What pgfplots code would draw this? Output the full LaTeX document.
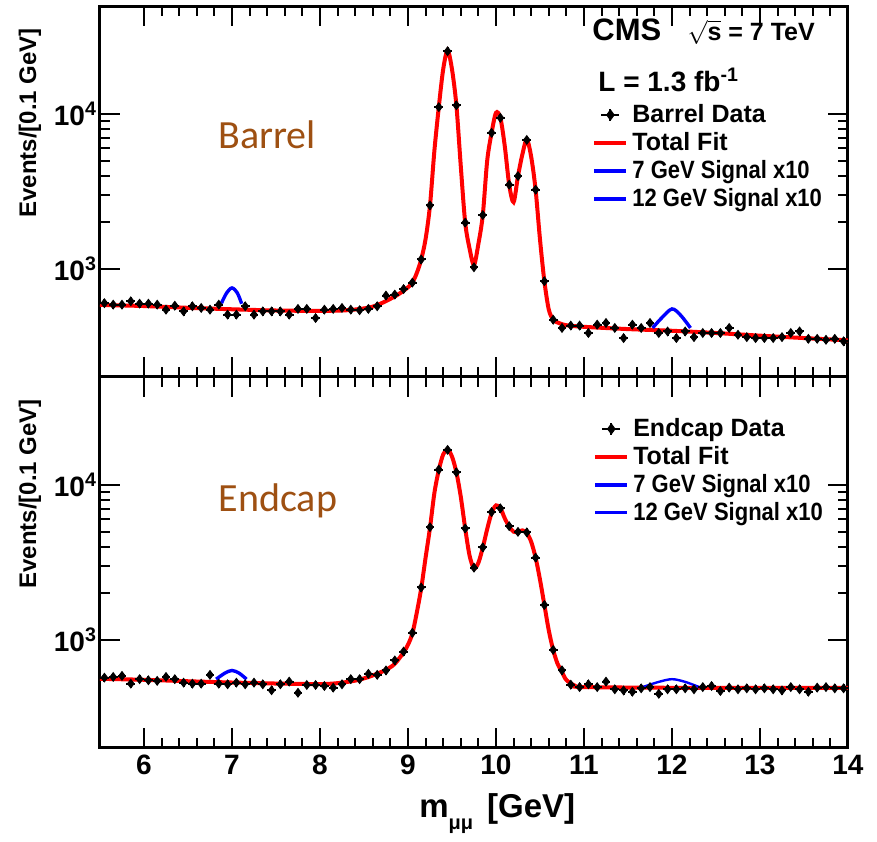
\documentclass[border=0pt]{standalone}
\usepackage{fontspec}
\setmainfont{Liberation Sans}
\newfontfamily\calibrifont{Carlito}
\newfontfamily\narrowfont[FakeStretch=0.88]{Liberation Sans}
\usepackage{pgfplots}
\usepackage{pgfplotstable}
\pgfplotsset{compat=1.18}

\definecolor{regionbrown}{RGB}{158,80,18}

% ---------------- Barrel: data in 0.1 GeV bins ----------------
\pgfplotstableread{
x y
5.55 600
5.65 587
5.75 587
5.85 617
5.95 596
6.05 596
6.15 587
6.25 545
6.35 578
6.45 531
6.55 573
6.65 559
6.75 545
6.85 587
6.95 506
7.05 506
7.15 573
7.25 506
7.35 531
7.45 531
7.55 531
7.65 506
7.75 551
7.85 551
7.95 481
8.05 545
8.15 551
8.25 559
8.35 545
8.45 540
8.55 551
8.65 573
8.75 672
8.85 682
8.95 740
9.05 815
9.15 1150
9.25 2570
9.35 11100
9.45 25500
9.55 11400
9.65 1990
9.75 1024
9.85 2225
9.95 7570
10.05 9460
10.15 3500
10.25 3980
10.35 6810
10.45 3250
10.55 831
10.65 469
10.75 415
10.85 430
10.95 430
11.05 385
11.15 436
11.25 447
11.35 415
11.45 357
11.55 436
11.65 415
11.75 447
11.85 385
11.95 394
12.05 357
12.15 394
12.25 362
12.35 385
12.45 385
12.55 385
12.65 415
12.75 375
12.85 362
12.95 357
13.05 357
13.15 357
13.25 362
13.35 385
13.45 394
13.55 353
13.65 353
13.75 348
13.85 353
13.95 340
}\barreldata

% Barrel: total fit
\pgfplotstableread{
x y
5.5 585
6.0 575
6.5 560
7.0 548
7.5 538
8.0 535
8.3 540
8.5 555
8.6 570
8.7 600
8.8 640
8.9 690
9.0 760
9.05 815
9.10 940
9.15 1150
9.20 1560
9.25 2570
9.30 5800
9.35 11100
9.40 19500
9.45 25800
9.50 19500
9.55 11400
9.60 4600
9.65 1990
9.70 1350
9.75 1060
9.80 1450
9.85 2225
9.90 5000
9.95 7570
10.00 10200
10.05 9460
10.10 6200
10.15 3500
10.20 2700
10.25 3980
10.30 5500
10.35 6850
10.40 5300
10.45 3250
10.50 1550
10.55 831
10.60 545
10.65 470
10.70 450
10.80 432
11.0 422
11.5 408
12.0 398
12.5 385
13.0 370
13.5 357
14.0 345
}\barrelfit

% Barrel: fit plus ten times the signal
\pgfplotstableread{
x y
6.88 600
6.94 700
7.00 753
7.06 700
7.11 595
}\barrelsigA
\pgfplotstableread{
x y
11.78 415
11.88 480
12.00 551
12.10 500
12.21 415
}\barrelsigB

% ---------------- Endcap: data in 0.1 GeV bins ----------------
\pgfplotstableread{
x y
5.55 570
5.65 576
5.75 585
5.85 521
5.95 557
6.05 548
6.15 543
6.25 576
6.35 557
6.45 529
6.55 521
6.65 521
6.75 594
6.85 521
6.95 516
7.05 529
7.15 516
7.25 529
7.35 516
7.45 472
7.55 516
7.65 537
7.75 455
7.85 511
7.95 511
8.05 503
8.15 491
8.25 516
8.35 557
8.45 557
8.55 603
8.65 594
8.75 634
8.85 736
8.95 840
9.05 1110
9.15 2180
9.25 5350
9.35 12600
9.45 16900
9.55 12100
9.65 5250
9.75 2930
9.85 3960
9.95 6700
10.05 7080
10.15 5430
10.25 4990
10.35 4950
10.45 3400
10.55 1680
10.65 861
10.75 635
10.85 513
10.95 495
11.05 516
11.15 495
11.25 537
11.35 479
11.45 471
11.55 462
11.65 486
11.75 495
11.85 448
11.95 479
12.05 479
12.15 486
12.25 479
12.35 495
12.45 503
12.55 467
12.65 491
12.75 479
12.85 486
12.95 479
13.05 486
13.15 479
13.25 471
13.35 495
13.45 479
13.55 462
13.65 491
13.75 495
13.85 486
13.95 486
}\endcapdata

% Endcap: total fit
\pgfplotstableread{
x y
5.5 560
6.0 552
6.5 540
7.0 530
7.5 522
8.0 518
8.2 525
8.4 545
8.55 575
8.65 605
8.75 640
8.85 700
8.95 830
9.00 930
9.05 1100
9.10 1500
9.15 2150
9.20 3400
9.25 5300
9.30 8900
9.35 12500
9.40 15800
9.45 17000
9.50 15300
9.55 12100
9.60 8400
9.65 5250
9.70 3500
9.75 2900
9.80 3150
9.85 3950
9.90 5200
9.95 6600
10.00 7400
10.05 7100
10.10 6100
10.15 5400
10.20 5000
10.25 4980
10.30 5100
10.35 4900
10.40 4300
10.45 3400
10.50 2450
10.55 1680
10.60 1150
10.65 860
10.70 700
10.75 620
10.80 550
10.90 505
11.0 495
12.0 490
13.0 490
14.0 490
}\endcapfit

\pgfplotstableread{
x y
6.82 557
6.92 610
7.00 634
7.08 610
7.165 557
}\endcapsigA
\pgfplotstableread{
x y
11.67 496
11.85 535
12.00 557
12.15 535
12.33 490
}\endcapsigB

\pgfplotsset{
  cmspanel/.style={
    scale only axis, width=374pt, height=185.5pt,
    xmin=5.5, xmax=14, ymin=200, ymax=50000,
    axis line style={line width=1.5pt},
    tick style={line width=1pt, black},
    tick align=inside,
    major tick length=10pt, minor tick length=5pt,
    xtick={6,7,...,14}, minor x tick num=4,
    ytick={1000,10000},
    yticklabels={\textbf{10}\textsuperscript{\textbf{3}}, \textbf{10}\textsuperscript{\textbf{4}}},
    /pgf/number format/assume math mode=true,
    ticklabel style={font=\fontsize{14}{14}\selectfont\bfseries},
    yticklabel style={xshift=2pt},
    ylabel={Events/[0.1 GeV]},
    every axis y label/.style={at={(axis description cs:-0.0936,0.685)}, rotate=90, anchor=center,
      font=\fontsize{12}{14}\selectfont\bfseries},
    legend cell align=left,
    legend style={draw=none, fill=none, inner sep=0pt, row sep=-0.6pt,
      font=\fontsize{12.5}{14}\selectfont\bfseries},
  },
  datalegend/.style={legend image code/.code={
      \draw[black, line width=1pt] (3.5pt,0pt) -- (12.5pt,0pt) (8pt,-3pt) -- (8pt,3pt);
      \fill[black] (8pt,2.6pt) -- (9.9pt,0pt) -- (8pt,-2.6pt) -- (6.1pt,0pt) -- cycle;}},
  datamarks/.style={black, only marks, mark=diamond*, mark size=2.2pt, forget plot,
    error bars/x dir=both, error bars/x fixed=0.05,
    error bars/y dir=both, error bars/y fixed relative=0.06,
    error bars/error mark=none, error bars/error bar style={line width=1pt}},
}

\begin{document}
\begin{tikzpicture}
\useasboundingbox (-50pt,-232pt) rectangle (388.5pt,188.5pt);

% Barrel panel
\begin{axis}[cmspanel, ymode=log, at={(0pt,0pt)}, anchor=south west, xticklabels={},
  legend image code/.code={\draw[#1] (0pt,0pt) -- (16pt,0pt);},
  legend style={at={(axis description cs:0.6578,0.7466)}, anchor=north west}]
  \addplot[red, line width=2pt, smooth, no markers, forget plot] table[x=x,y=y] {\barrelfit};
  \addplot[blue, line width=1.7pt, smooth, no markers, forget plot] table[x=x,y=y] {\barrelsigA};
  \addplot[blue, line width=1.7pt, smooth, no markers, forget plot] table[x=x,y=y] {\barrelsigB};
  \addplot[datamarks] table[x=x,y=y] {\barreldata};

  \addlegendimage{datalegend}
  \addlegendentry{Barrel Data}
  \addlegendimage{red, line width=2pt}
  \addlegendentry{Total Fit}
  \addlegendimage{blue, line width=2pt}
  \addlegendentry{\narrowfont\bfseries 7 GeV Signal x10}
  \addlegendimage{blue, line width=2pt}
  \addlegendentry{\narrowfont\bfseries 12 GeV Signal x10}

  \node[anchor=base west, inner sep=0pt, font=\fontsize{15.5}{16}\selectfont\bfseries]
    at (axis description cs:0.6578,0.907) {CMS};
  \node[anchor=base west, inner sep=0pt, font=\fontsize{12.5}{13}\selectfont\bfseries]
    at (axis description cs:0.785,0.907) {$\sqrt{\mbox{\bfseries s}}$ = 7 TeV};
  \node[anchor=base west, inner sep=0pt, font=\fontsize{14}{14}\selectfont\bfseries]
    at (axis description cs:0.6658,0.769) {L = 1.3 fb\textsuperscript{-1}};
  \node[anchor=base west, inner sep=0pt, text=regionbrown, font=\calibrifont\fontsize{20}{22}\selectfont]
    at (axis description cs:0.1578,0.616) {Barrel};
\end{axis}

% Endcap panel
\begin{axis}[cmspanel, ymode=log, at={(0pt,0pt)}, anchor=north west,
  legend image code/.code={\draw[#1] (0pt,0pt) -- (16pt,0pt);},
  xlabel={m\raisebox{-6pt}{\fontsize{10}{10}\selectfont μμ}\hspace{7pt}[GeV]},
  every axis x label/.style={at={(axis description cs:0.531,0)}, yshift=-33pt, anchor=center,
    font=\fontsize{16.5}{17}\selectfont\bfseries},
  legend style={at={(axis description cs:0.659,0.9003)}, anchor=north west}]
  \addplot[red, line width=2pt, smooth, no markers, forget plot] table[x=x,y=y] {\endcapfit};
  \addplot[blue, line width=1.7pt, smooth, no markers, forget plot] table[x=x,y=y] {\endcapsigA};
  \addplot[blue, line width=1.2pt, smooth, no markers, forget plot] table[x=x,y=y] {\endcapsigB};
  \addplot[datamarks] table[x=x,y=y] {\endcapdata};

  \addlegendimage{datalegend}
  \addlegendentry{Endcap Data}
  \addlegendimage{red, line width=2pt}
  \addlegendentry{Total Fit}
  \addlegendimage{blue, line width=2pt}
  \addlegendentry{\narrowfont\bfseries 7 GeV Signal x10}
  \addlegendimage{blue, line width=1.2pt}
  \addlegendentry{\narrowfont\bfseries 12 GeV Signal x10}

  \node[anchor=base west, inner sep=0pt, text=regionbrown, font=\calibrifont\fontsize{20}{22}\selectfont]
    at (axis description cs:0.1583,0.637) {Endcap};
\end{axis}
\end{tikzpicture}
\end{document}
